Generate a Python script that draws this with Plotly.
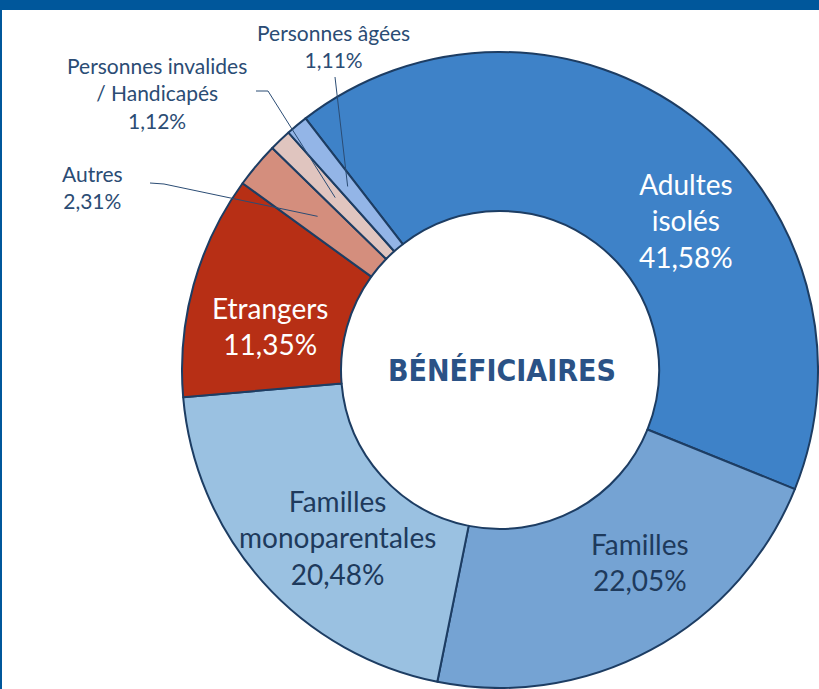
import math
import plotly.graph_objects as go

# ---- data ----
categories = ["Adultes isolés", "Familles", "Familles monoparentales", "Etrangers",
              "Autres", "Personnes invalides / Handicapés", "Personnes âgées"]
values = [41.58, 22.05, 20.48, 11.35, 2.31, 1.12, 1.11]
label_texts = ["Adultes<br>isolés<br>41,58%", "Familles<br>22,05%",
               "Familles<br>monoparentales<br>20,48%", "Etrangers<br>11,35%",
               "Autres<br>2,31%", "Personnes invalides<br>/ Handicapés<br>1,12%",
               "Personnes âgées<br>1,11%"]
center_title = "BÉNÉFICIAIRES"

colors = ["#3E82C8", "#75A3D3", "#9AC1E1", "#B72F15", "#D48E7D", "#E0C5BF", "#93B5E7"]

W, H = 819, 689
CX, CY, R = 500, 370, 318
ROT = -37.7
HOLE = 0.5


def px(x):
    return x / W


def py(y):
    return 1 - y / H


fig = go.Figure(go.Pie(
    labels=categories, values=values, sort=False, direction="clockwise",
    rotation=ROT, hole=HOLE, textinfo="none", hoverinfo="label+percent",
    marker=dict(colors=colors, line=dict(color="#1D3D63", width=2)),
    domain=dict(x=[px(CX - R), px(CX + R)], y=[py(CY + R), py(CY - R)]),
    showlegend=False,
))

# label positions (pixel centers) and styles
label_pos = [(686, 221), (640, 562), (337, 537), (270, 326), (92, 187), (157, 93), (333, 46)]
label_size = [28, 28, 28, 28, 21, 21, 21]
label_color = ["white", "#1E3A5C", "#1E3A5C", "white", "#2B4C74", "#2B4C74", "#2B4C74"]

annotations = []
for t, (x, y), s, c in zip(label_texts, label_pos, label_size, label_color):
    annotations.append(dict(x=px(x), y=py(y), xref="paper", yref="paper", text=t,
                            showarrow=False, font=dict(family="Lato", size=s, color=c),
                            xanchor="center", yanchor="middle", align="center"))

annotations.append(dict(x=px(CX + 2), y=py(CY), xref="paper", yref="paper", text="<b>" + center_title + "</b>",
                        showarrow=False,
                        font=dict(family="DejaVu Sans Condensed", size=30, color="#2A5286"),
                        xanchor="center", yanchor="middle"))

# leader lines for small slices: elbow points -> mid-ring point of the slice
elbows = {4: [(150, 183), (164, 184)], 5: [(256, 91), (268, 91)], 6: [(335, 77)]}
shapes = []
total = sum(values)
cum = 0
mid_r = R * (1 + HOLE) / 2
for i, v in enumerate(values):
    mid = ROT + (cum + v / 2) / total * 360
    cum += v
    if i in elbows:
        a = math.radians(mid)
        ex, ey = CX + mid_r * math.sin(a), CY - mid_r * math.cos(a)
        pts = elbows[i] + [(ex, ey)]
        path = "M " + " L ".join(f"{px(x)},{py(y)}" for x, y in pts)
        shapes.append(dict(type="path", xref="paper", yref="paper", path=path,
                           line=dict(color="#2B4C74", width=1)))

# frame: top band and left edge
shapes.append(dict(type="rect", xref="paper", yref="paper", x0=0, x1=1, y0=py(10), y1=1,
                   fillcolor="#00579B", line=dict(width=0), layer="above"))
shapes.append(dict(type="rect", xref="paper", yref="paper", x0=0, x1=px(2), y0=0, y1=1,
                   fillcolor="#00579B", line=dict(width=0), layer="above"))

fig.update_layout(width=W, height=H, margin=dict(l=0, r=0, t=0, b=0),
                  paper_bgcolor="white", plot_bgcolor="white",
                  annotations=annotations, shapes=shapes)

fig.write_html("out.html", config={"displayModeBar": False},
               post_script="document.body.style.margin='0';document.body.style.overflow='hidden';")
